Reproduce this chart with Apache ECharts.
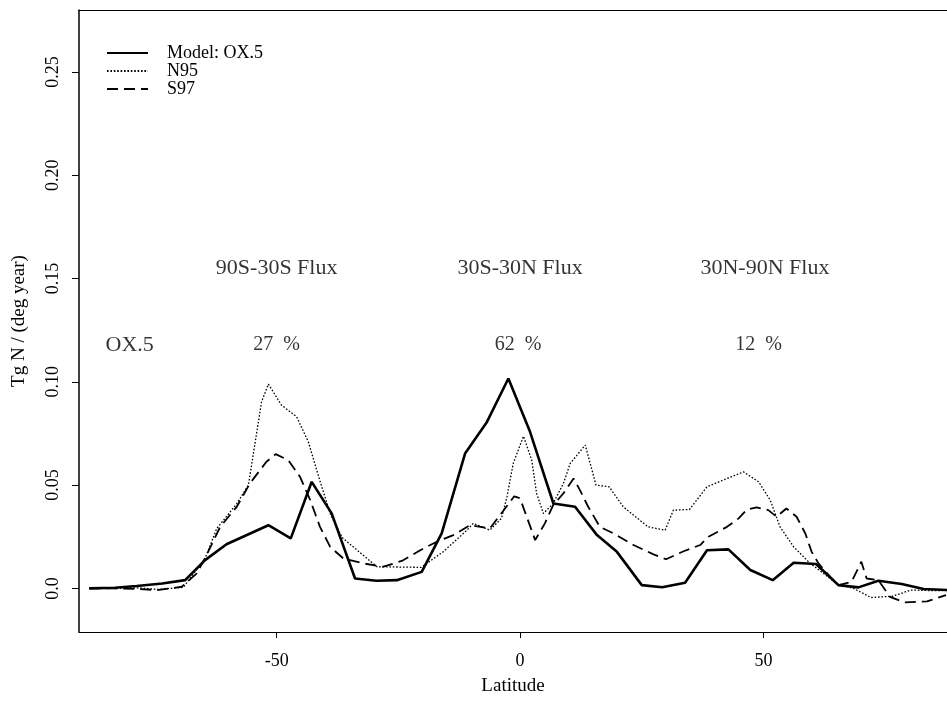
<!DOCTYPE html>
<html>
<head>
<meta charset="utf-8">
<script src="https://cdn.jsdelivr.net/npm/echarts@6/dist/echarts.min.js"></script>
<style>
  html, body { margin: 0; padding: 0; background: #fff; }
  #chart { width: 947px; height: 704px; }
</style>
</head>
<body>
<div id="chart"></div>
<script>
// ---- Data ----
const seriesNames = ["Model: OX.5", "N95", "S97"];

const modelLat = [-88.5, -83.25, -78.75, -73.5, -68.8, -64.7, -60.3, -51.7, -47.1, -42.8, -38.7, -33.9, -29.5, -25.3, -20.2, -16.1, -11.3, -6.8, -2.4, 2.05, 6.85, 11.3, 15.8, 19.9, 25.0, 29.2, 33.9, 38.4, 42.8, 47.3, 51.9, 56.2, 60.8, 65.4, 69.5, 73.6, 78.4, 82.9, 87.7];
const modelVal = [0, 0.0003, 0.0012, 0.0024, 0.004, 0.0137, 0.0214, 0.0306, 0.0242, 0.0516, 0.0363, 0.0048, 0.0037, 0.004, 0.008, 0.0266, 0.0653, 0.0806, 0.1016, 0.0758, 0.0411, 0.0395, 0.0258, 0.0177, 0.0016, 0.0006, 0.0027, 0.0185, 0.0189, 0.0089, 0.004, 0.0124, 0.0118, 0.0016, 0.0005, 0.0037, 0.0021, -0.0003, -0.0008];

const n95Lat = [-88.5, -83.5, -78.5, -74.6, -69.2, -64.7, -62.3, -58.2, -55.8, -53.1, -51.7, -49.0, -45.9, -43.5, -41.1, -38.9, -36.5, -29.4, -20.3, -15.8, -11.0, -9.6, -6.2, -3.8, -2.7, -1.4, 0.7, 2.4, 3.4, 4.8, 6.8, 8.9, 10.3, 13.4, 15.6, 18.3, 21.2, 26.3, 29.8, 31.5, 34.8, 38.4, 42.5, 45.9, 49.0, 51.4, 53.4, 56.2, 59.6, 62.3, 65.0, 68.5, 72.1, 76.5, 80.3, 84, 87.7];
const n95Val = [0, 0, 0.0003, -0.0005, 0.0005, 0.0145, 0.029, 0.041, 0.05, 0.0903, 0.0989, 0.0887, 0.0831, 0.071, 0.052, 0.0355, 0.0245, 0.0105, 0.0102, 0.0177, 0.028, 0.0315, 0.0282, 0.034, 0.0443, 0.0605, 0.0737, 0.0621, 0.046, 0.0363, 0.0411, 0.0508, 0.0605, 0.0694, 0.05, 0.0492, 0.0395, 0.0298, 0.0282, 0.0379, 0.0382, 0.0492, 0.0532, 0.0564, 0.0516, 0.0427, 0.0298, 0.0201, 0.0121, 0.0073, 0.0024, 0, -0.0044, -0.0038, -0.0008, -0.001, -0.001];

const s97Lat = [-88.5, -83.5, -78.5, -74.6, -69.5, -66.4, -64.4, -61.6, -58.2, -55.5, -52.1, -50.2, -47.6, -45.2, -43.1, -41.1, -39.0, -36.3, -32.2, -28.1, -24.3, -20.5, -17.1, -13.7, -10.3, -6.2, -4.1, -1.2, 0, 3.1, 5.1, 6.8, 8.9, 11.0, 12.3, 14.0, 16.4, 19.2, 23.3, 27.4, 30.0, 33.6, 37.0, 38.7, 42.5, 44.9, 46.6, 48.6, 51.0, 52.7, 54.7, 56.8, 58.6, 59.9, 61.3, 63.7, 65.4, 68.1, 70.1, 71.2, 73.6, 76.0, 79.0, 83.6, 87.5];
const s97Val = [0, 0, -0.0003, -0.0008, 0.0008, 0.0073, 0.0161, 0.0298, 0.0395, 0.0508, 0.0613, 0.065, 0.0621, 0.054, 0.0427, 0.0298, 0.0201, 0.0145, 0.0121, 0.0105, 0.0133, 0.0185, 0.0226, 0.0258, 0.0306, 0.029, 0.0355, 0.0446, 0.0436, 0.0234, 0.0315, 0.0403, 0.046, 0.0532, 0.0476, 0.0395, 0.0298, 0.0266, 0.021, 0.0165, 0.0141, 0.018, 0.021, 0.025, 0.0298, 0.0339, 0.0382, 0.0392, 0.0379, 0.0347, 0.0387, 0.0347, 0.0266, 0.0177, 0.0121, 0.0056, 0.0016, 0.0032, 0.0129, 0.0048, 0.004, -0.0041, -0.0068, -0.0063, -0.0032];

const yTickValues = [0, 0.05, 0.10, 0.15, 0.20, 0.25];
const yTickLabels = ["0.0", "0.05", "0.10", "0.15", "0.20", "0.25"];
const xTickValues = [-50, 0, 50];
const xTickLabels = ["-50", "0", "50"];

const noteText = ["90S-30S Flux", "30S-30N Flux", "30N-90N Flux", "OX.5", "27  %", "62  %", "12  %"];
const noteLat = [-50, 0, 50.3, -80.2, -50, -0.4, 49];
const noteVal = [0.155, 0.155, 0.155, 0.1178, 0.1178, 0.1178, 0.1178];
const noteSize = [22, 22, 22, 22, 20, 20, 20];

// ---- Chart ----
const FONT = "Liberation Serif";
const zip = (a, b) => a.map((v, i) => [v, b[i]]);

const chart = echarts.init(document.getElementById('chart'), null, { renderer: 'canvas' });

const xMin = -90.6, xMax = 87.7;
const option = {
  backgroundColor: '#ffffff',
  animation: false,
  textStyle: { fontFamily: FONT, color: '#000' },
  grid: { left: 79, right: 0, top: 10, bottom: 72, containLabel: false },
  legend: {
    data: seriesNames,
    orient: 'vertical',
    left: 101,
    top: 39,
    itemWidth: 41,
    itemHeight: 12,
    itemGap: 0,
    itemStyle: { opacity: 0 },
    textStyle: { fontFamily: FONT, fontSize: 18, lineHeight: 18, color: '#000', padding: [0, 0, 0, 14] },
    inactiveColor: '#000'
  },
  xAxis: [{
    type: 'value',
    min: xMin, max: xMax,
    position: 'bottom',
    name: 'Latitude',
    nameLocation: 'middle',
    nameGap: 45,
    nameTextStyle: { fontFamily: FONT, fontSize: 19, color: '#000' },
    splitLine: { show: false },
    axisLine: { show: true, onZero: false, lineStyle: { color: '#000', width: 1.2 } },
    axisTick: { show: true, length: 6, inside: false, customValues: xTickValues, lineStyle: { color: '#000' } },
    axisLabel: {
      show: true, margin: 20, fontFamily: FONT, fontSize: 18, color: '#000',
      customValues: xTickValues,
      formatter: v => xTickLabels[xTickValues.indexOf(v)]
    }
  }, {
    type: 'value',
    min: xMin, max: xMax,
    position: 'top',
    splitLine: { show: false },
    axisLine: { show: true, onZero: false, lineStyle: { color: '#000', width: 1.2 } },
    axisTick: { show: false },
    axisLabel: { show: false }
  }],
  yAxis: {
    type: 'value',
    min: -0.0211, max: 0.28,
    name: 'Tg N / (deg year)',
    nameLocation: 'middle',
    nameGap: 50,
    nameRotate: 90,
    nameTextStyle: { fontFamily: FONT, fontSize: 19, color: '#000' },
    splitLine: { show: false },
    axisLine: { show: true, onZero: false, lineStyle: { color: '#000', width: 1.5 } },
    axisTick: { show: true, length: 7, customValues: yTickValues, lineStyle: { color: '#000' } },
    axisLabel: {
      show: true, rotate: 90, margin: 17, fontFamily: FONT, fontSize: 18, color: '#000',
      customValues: yTickValues,
      formatter: v => {
        let best = 0;
        yTickValues.forEach((t, i) => { if (Math.abs(t - v) < Math.abs(yTickValues[best] - v)) best = i; });
        return yTickLabels[best];
      }
    }
  },
  series: [
    {
      name: seriesNames[0], type: 'line', data: zip(modelLat, modelVal),
      symbol: 'none', color: '#000',
      lineStyle: { color: '#000', width: 2.6, type: 'solid' }
    },
    {
      name: seriesNames[1], type: 'line', data: zip(n95Lat, n95Val),
      symbol: 'none', color: '#000',
      lineStyle: { color: '#000', width: 1.3, type: [1.6, 1.8] }
    },
    {
      name: seriesNames[2], type: 'line', data: zip(s97Lat, s97Val),
      symbol: 'none', color: '#000',
      lineStyle: { color: '#000', width: 1.8, type: [11, 6] }
    },
    {
      name: 'notes', type: 'scatter', symbolSize: 0, silent: true,
      data: noteLat.map((x, i) => ({
        value: [x, noteVal[i]], name: noteText[i],
        label: { fontSize: noteSize[i] }
      })),
      label: {
        show: true, position: 'inside', formatter: p => p.name,
        fontFamily: FONT, fontSize: 20, color: '#000'
      }
    }
  ]
};
chart.setOption(option);
</script>
</body>
</html>
